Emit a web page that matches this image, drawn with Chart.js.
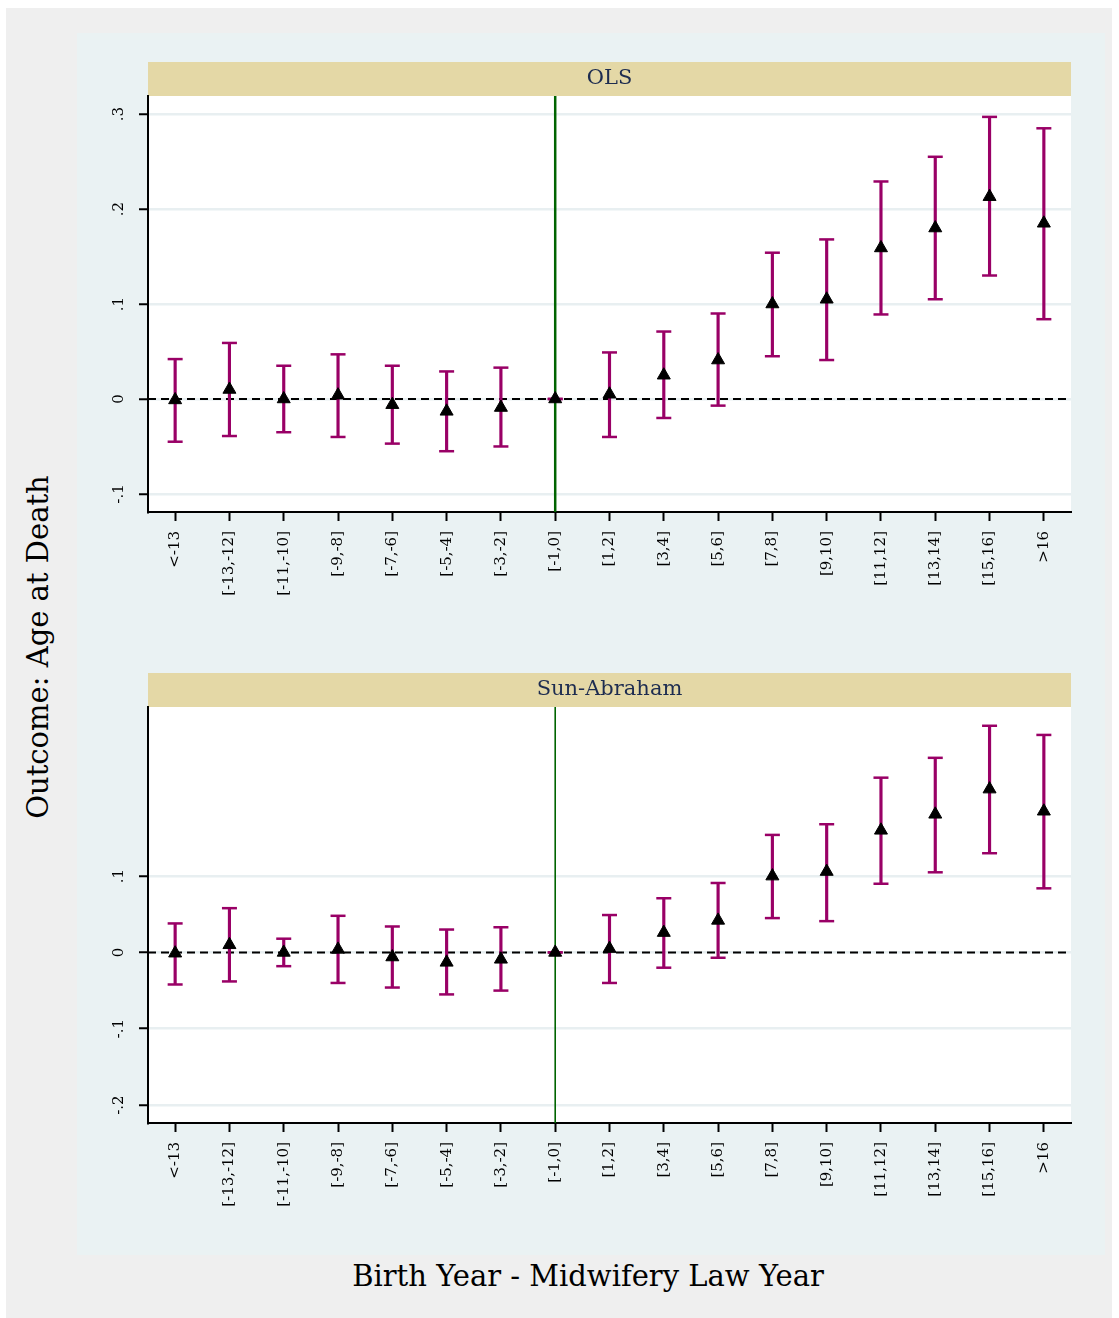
<!DOCTYPE html>
<html lang="en">
<head>
  <meta charset="UTF-8">
  <title>Outcome: Age at Death</title>
  <script src="https://cdn.jsdelivr.net/npm/chart.js"></script>
  <style>
    body { margin: 0; background: #ffffff; }
    #page { position: relative; width: 1119px; height: 1318px; overflow: hidden; }
    #outer { position: absolute; left: 6px; top: 8px; width: 1106px; height: 1310px; background: #efefef; }
    #inner { position: absolute; left: 77px; top: 33px; width: 1028px; height: 1222px; background: #eaf2f3; }
    canvas { position: absolute; left: 77px; }
    #olsChart { top: 40px; }
    #saChart { top: 650px; }
    .axis-title { position: absolute; font-family: 'DejaVu Serif', serif; font-size: 29px; color: #000; white-space: nowrap; }
    #ytitle { left: 38px; top: 647px; transform: translate(-50%, -50%) rotate(-90deg); }
    #xtitle { left: 588px; top: 1276px; transform: translate(-50%, -50%); }
  </style>
</head>
<body>
<div id="page">
  <div id="outer"></div>
  <div id="inner"></div>
  <canvas id="olsChart" width="1028" height="600"></canvas>
  <canvas id="saChart" width="1028" height="600"></canvas>
  <div class="axis-title" id="ytitle">Outcome: Age at Death</div>
  <div class="axis-title" id="xtitle">Birth Year - Midwifery Law Year</div>
</div>
<script>
  // event-time bins
  const xLabels = ['<-13', '[-13,-12]', '[-11,-10]', '[-9,-8]', '[-7,-6]', '[-5,-4]', '[-3,-2]', '[-1,0]',
    '[1,2]', '[3,4]', '[5,6]', '[7,8]', '[9,10]', '[11,12]', '[13,14]', '[15,16]', '>16'];

  // OLS estimates and 95% CI
  const olsCoef = [-0.001, 0.010, 0.000, 0.004, -0.006, -0.013, -0.009, 0, 0.005, 0.025, 0.041, 0.100, 0.105, 0.159, 0.180, 0.213, 0.185];
  const olsLow  = [-0.045, -0.039, -0.035, -0.040, -0.047, -0.055, -0.050, 0, -0.040, -0.020, -0.007, 0.045, 0.041, 0.089, 0.105, 0.130, 0.084];
  const olsHigh = [0.042, 0.059, 0.035, 0.047, 0.035, 0.029, 0.033, 0, 0.049, 0.071, 0.090, 0.154, 0.168, 0.229, 0.255, 0.297, 0.285];

  // Sun-Abraham estimates and 95% CI
  const saCoef = [-0.001, 0.010, 0.000, 0.004, -0.006, -0.013, -0.009, 0, 0.005, 0.026, 0.042, 0.100, 0.106, 0.160, 0.181, 0.214, 0.185];
  const saLow  = [-0.042, -0.038, -0.018, -0.040, -0.046, -0.055, -0.050, 0, -0.040, -0.020, -0.007, 0.045, 0.041, 0.090, 0.105, 0.130, 0.084];
  const saHigh = [0.038, 0.058, 0.018, 0.048, 0.034, 0.030, 0.033, 0, 0.049, 0.071, 0.091, 0.154, 0.168, 0.229, 0.255, 0.297, 0.285];

  // y axis ticks
  const olsTicks = [-0.1, 0, 0.1, 0.2, 0.3];
  const olsTickLabels = ['-.1', '0', '.1', '.2', '.3'];
  const saTicks = [-0.2, -0.1, 0, 0.1];
  const saTickLabels = ['-.2', '-.1', '0', '.1'];

  const refIndex = xLabels.indexOf('[-1,0]');
  const ciColor = '#990066';
  const serif = 'DejaVu Serif';

  // white plot region + tan title band
  const panelBackground = {
    id: 'panelBackground',
    beforeDraw(chart) {
      const ctx = chart.ctx;
      const a = chart.chartArea;
      const t = chart.titleBlock;
      ctx.save();
      ctx.fillStyle = '#ffffff';
      ctx.fillRect(a.left, a.top, a.right - a.left, a.bottom - a.top);
      ctx.fillStyle = '#e4d8a6';
      ctx.fillRect(t.left, t.top, t.width, t.height);
      ctx.restore();
    }
  };

  function makePanel(id, title, coef, low, high, yMin, yMax, yTicks, yTickLabels, topPad, vLineWidth) {
    const ctx = document.getElementById(id).getContext('2d');
    return new Chart(ctx, {
      type: 'scatter',
      data: {
        datasets: [
          {
            type: 'scatter',
            data: coef.map((v, i) => ({ x: i, y: v })),
            pointStyle: 'triangle',
            pointRadius: 7.5,
            backgroundColor: '#000000',
            borderColor: '#000000',
            borderWidth: 1,
            order: 0
          },
          {
            type: 'scatter',
            data: low.map((v, i) => ({ x: i, y: v })).concat(high.map((v, i) => ({ x: i, y: v }))),
            pointStyle: 'line',
            pointRadius: 7.5,
            borderColor: ciColor,
            borderWidth: 2.5,
            order: 1
          },
          {
            type: 'bar',
            data: low.map((v, i) => ({ x: i, y: [v, high[i]] })),
            backgroundColor: ciColor,
            borderWidth: 0,
            barThickness: 2.5,
            grouped: false,
            order: 2
          },
          {
            type: 'line',
            data: [{ x: -0.5, y: 0 }, { x: xLabels.length - 0.5, y: 0 }],
            borderColor: '#000000',
            borderWidth: 2,
            borderDash: [8, 5],
            pointRadius: 0,
            order: 3
          },
          {
            type: 'line',
            data: [{ x: refIndex, y: yMin }, { x: refIndex, y: yMax }],
            borderColor: '#006400',
            borderWidth: vLineWidth,
            pointRadius: 0,
            clip: 0,
            order: 4
          }
        ]
      },
      options: {
        responsive: false,
        animation: false,
        events: [],
        layout: { padding: { top: topPad, right: 34, left: 0, bottom: 0 } },
        plugins: {
          legend: { display: false },
          tooltip: { enabled: false },
          title: {
            display: true,
            text: title,
            fullSize: false,
            color: '#1d2c50',
            padding: 0,
            font: { family: serif, size: 21, weight: 'normal', lineHeight: '34px' }
          }
        },
        scales: {
          x: {
            type: 'linear',
            offset: false,
            min: -0.5,
            max: xLabels.length - 0.5,
            afterBuildTicks: scale => { scale.ticks = xLabels.map((l, i) => ({ value: i })); },
            afterFit: scale => { scale.height = 600 - 472 - topPad + 22; scale.paddingLeft = 0; scale.paddingRight = 0; },
            border: { color: '#000000', width: 2 },
            grid: { offset: false, drawOnChartArea: false, tickColor: '#000000', tickLength: 9, tickWidth: 2 },
            ticks: {
              autoSkip: false,
              minRotation: 90,
              maxRotation: 90,
              padding: 10,
              color: '#000000',
              font: { family: serif, size: 15 },
              callback: v => xLabels[v]
            }
          },
          y: {
            min: yMin,
            max: yMax,
            afterBuildTicks: scale => { scale.ticks = yTicks.map(v => ({ value: v })); },
            afterFit: scale => { scale.width = 71; scale.paddingTop = 0; scale.paddingBottom = 0; },
            border: { color: '#000000', width: 2 },
            grid: { color: '#e8eff1', lineWidth: 2.5, tickColor: '#000000', tickLength: 9, tickWidth: 2 },
            ticks: {
              minRotation: 90,
              maxRotation: 90,
              crossAlign: 'center',
              padding: 10,
              color: '#000000',
              font: { family: serif, size: 15 },
              callback: (v, i) => yTickLabels[i]
            }
          }
        }
      },
      plugins: [panelBackground]
    });
  }

  makePanel('olsChart', 'OLS', olsCoef, olsLow, olsHigh, -0.119, 0.319, olsTicks, olsTickLabels, 22, 2.5);
  makePanel('saChart', 'Sun-Abraham', saCoef, saLow, saHigh, -0.2235, 0.3216, saTicks, saTickLabels, 23, 1.6);
</script>
</body>
</html>
